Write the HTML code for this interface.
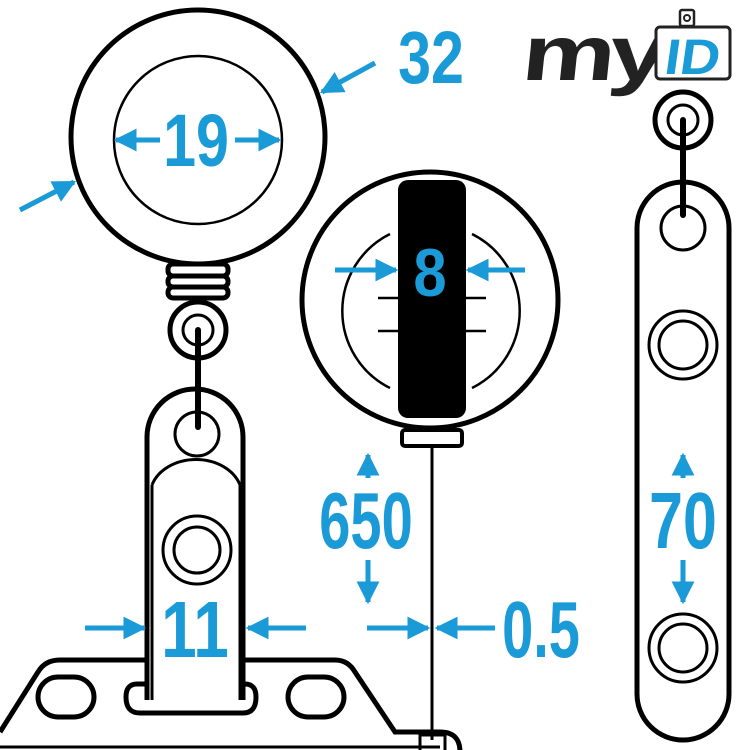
<!DOCTYPE html>
<html><head><meta charset="utf-8"><style>
html,body{margin:0;padding:0;background:#fff;width:750px;height:750px;overflow:hidden}
svg{display:block}
.t{font-family:"Liberation Sans",sans-serif;font-weight:bold;fill:#1a9ad6}
</style></head><body>
<svg width="750" height="750" viewBox="0 0 750 750" xmlns="http://www.w3.org/2000/svg">
<defs>
<marker id="ah" viewBox="0 0 10 10" refX="9" refY="5" markerWidth="4.6" markerHeight="4.6" orient="auto-start-reverse" markerUnits="strokeWidth">
<path d="M0,0 L10,5 L0,10 z" fill="#1a9ad6"/></marker>
</defs>
<g fill="none" stroke="#000" stroke-width="5">
<circle cx="198" cy="137" r="127"/>
<circle cx="198" cy="140" r="84" stroke-width="2.5"/>
<rect x="168" y="264" width="60" height="12" rx="5"/>
<rect x="168" y="276" width="60" height="11" rx="5"/>
<rect x="168" y="287" width="60" height="11" rx="5"/>
<circle cx="198" cy="330" r="28"/>
<circle cx="198" cy="330" r="15" stroke-width="3"/>
<line x1="198" y1="330" x2="198" y2="427" stroke-width="6" stroke-linecap="round"/>
<path d="M147,700 V437 A48,48 0 0 1 243,437 V700"/>
<circle cx="197" cy="434" r="22" stroke-width="3"/>
<path d="M152,485 A46,36 0 0 1 240,485" stroke-width="3"/>
<line x1="152" y1="485" x2="152" y2="700" stroke-width="3"/>
<line x1="240" y1="485" x2="240" y2="700" stroke-width="3"/>
<circle cx="197" cy="550" r="34" stroke-width="3"/>
<circle cx="197" cy="550" r="23" stroke-width="3"/>
<path d="M0,732 L38,672 Q45,660 60,660 H145 M245,660 H335 Q348,660 355,672 L395,732 H440 Q460,732 460,752"/>
<line x1="0" y1="747" x2="440" y2="747" stroke-width="3"/>
<rect x="38" y="677" width="56" height="40" rx="20"/>
<rect x="288" y="677" width="56" height="40" rx="20"/>
<path d="M147,684 H137 Q126,684 126,697 Q126,713 140,713 H243 Q256,713 256,697 Q256,684 245,684"/>
<circle cx="430" cy="300" r="128"/>
<path d="M390,388 A86,86 0 0 1 390,234" stroke-width="2.5"/>
<path d="M472,388 A86,86 0 0 0 472,234" stroke-width="2.5"/>
<line x1="378" y1="298" x2="486" y2="298" stroke-width="2.5"/>
<line x1="378" y1="331" x2="486" y2="331" stroke-width="2.5"/>
<rect x="402" y="430" width="60" height="16" rx="3" stroke-width="4"/>
<line x1="432" y1="446" x2="432" y2="740" stroke-width="3"/>
<rect x="420" y="735" width="25" height="20" stroke-width="3"/>
<circle cx="683" cy="120" r="28"/>
<circle cx="683" cy="120" r="15" stroke-width="3"/>
<line x1="683" y1="120" x2="683" y2="215" stroke-width="6" stroke-linecap="round"/>
<rect x="637" y="182" width="92" height="558" rx="46"/>
<circle cx="683" cy="228" r="22" stroke-width="3"/>
<circle cx="683" cy="345" r="34" stroke-width="3"/>
<circle cx="683" cy="345" r="24" stroke-width="3"/>
<circle cx="683" cy="648" r="34" stroke-width="3"/>
<circle cx="683" cy="648" r="24" stroke-width="3"/>
</g>
<rect x="398" y="180" width="68" height="238" rx="10" fill="#000"/>
<g stroke="#1a9ad6" stroke-width="5" fill="none" marker-end="url(#ah)">
<line x1="20" y1="210" x2="74" y2="182"/>
<line x1="375" y1="63" x2="322" y2="92"/>
<line x1="160" y1="140" x2="116" y2="140"/>
<line x1="235" y1="140" x2="279" y2="140"/>
<line x1="335" y1="270" x2="396" y2="270"/>
<line x1="525" y1="270" x2="468" y2="270"/>
<line x1="85" y1="628" x2="144" y2="628"/>
<line x1="306" y1="628" x2="248" y2="628"/>
<line x1="367" y1="628" x2="428" y2="628"/>
<line x1="495" y1="628" x2="437" y2="628"/>
<line x1="368" y1="478" x2="368" y2="455"/>
<line x1="368" y1="560" x2="368" y2="602"/>
<line x1="683" y1="478" x2="683" y2="455"/>
<line x1="683" y1="560" x2="683" y2="602"/>
</g>
<g class="t" text-anchor="middle">
<text x="0" y="0" font-size="74" transform="translate(196,166) scale(0.8,1)">19</text>
<text x="0" y="0" font-size="74" transform="translate(431,83) scale(0.8,1)">32</text>
<text x="0" y="0" font-size="68" transform="translate(430,296) scale(0.88,1)">8</text>
<text x="0" y="0" font-size="80" transform="translate(366,548) scale(0.7,1)">650</text>
<text x="0" y="0" font-size="80" transform="translate(195,657) scale(0.8,1)">11</text>
<text x="0" y="0" font-size="80" transform="translate(541,657) scale(0.7,1)">0.5</text>
<text x="0" y="0" font-size="80" transform="translate(683,548) scale(0.76,1)">70</text>
</g>
<g>
<text x="0" y="0" font-family="Liberation Sans,sans-serif" font-weight="bold" font-size="100" fill="#222" transform="translate(520,80) skewX(-6) scale(1.05,0.78)" letter-spacing="-6">my</text>
<rect x="656" y="27" width="74" height="52" rx="4" fill="#fff" stroke="#222" stroke-width="3"/>
<rect x="680" y="10" width="14" height="16" rx="2" fill="#fff" stroke="#222" stroke-width="2.5"/>
<circle cx="687" cy="18" r="3" fill="none" stroke="#222" stroke-width="2"/>
<text x="0" y="0" font-family="Liberation Sans,sans-serif" font-weight="bold" font-size="50" fill="#1a9ad6" transform="translate(663,74) skewX(-8) scale(1.1,1)">ID</text>
</g>
</svg>
</body></html>
